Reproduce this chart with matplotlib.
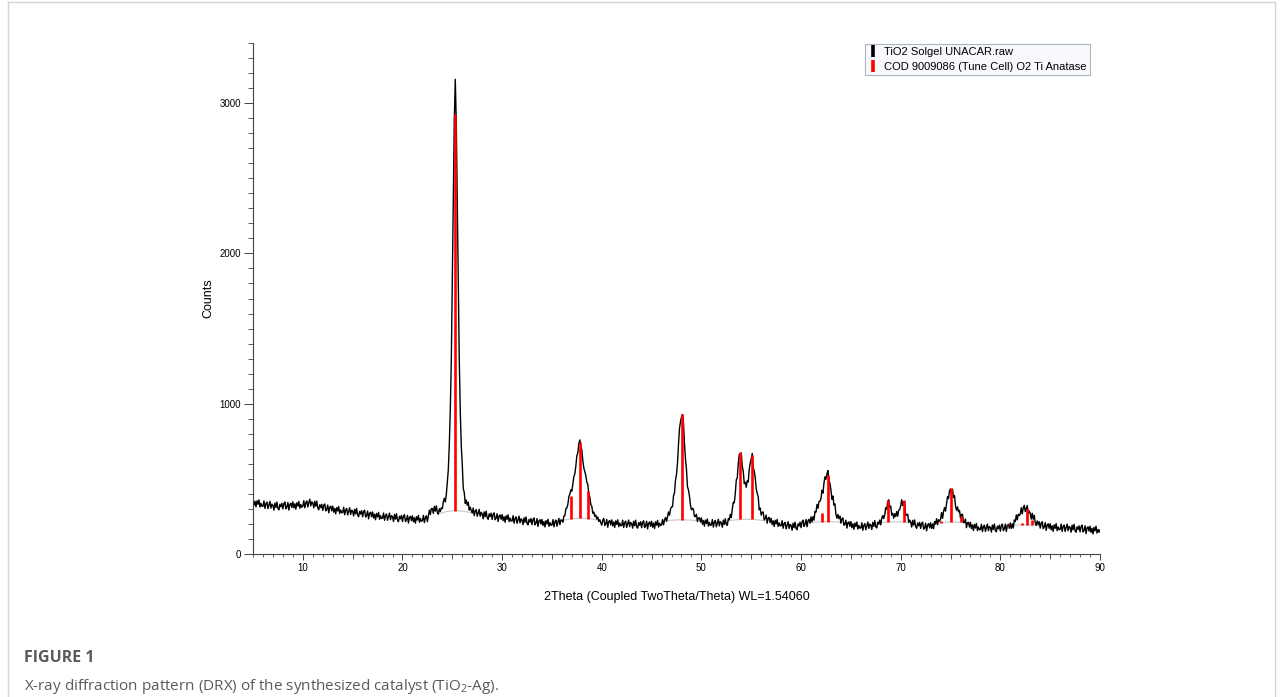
import numpy as np
import matplotlib
matplotlib.use('Agg')
import matplotlib.pyplot as plt
from matplotlib.lines import Line2D
from matplotlib.ticker import MultipleLocator, FixedLocator

plt.rcParams['font.family'] = ['Liberation Sans', 'DejaVu Sans']

# measured pattern, 5-90 deg 2theta in 0.1 deg steps (one row per degree)
counts = [
    367, 325, 351, 313, 354, 331, 360, 313, 337, 318,
    318, 353, 303, 335, 345, 302, 327, 350, 305, 332,
    323, 292, 339, 309, 346, 303, 294, 331, 314, 338,
    300, 335, 346, 301, 313, 343, 292, 330, 338, 309,
    347, 307, 334, 298, 341, 319, 350, 304, 329, 311,
    318, 355, 307, 341, 353, 313, 341, 365, 320, 347,
    340, 307, 351, 318, 352, 306, 294, 328, 309, 331,
    290, 324, 333, 287, 298, 326, 274, 311, 318, 287,
    319, 278, 304, 267, 309, 286, 316, 269, 293, 275,
    276, 311, 261, 293, 303, 260, 285, 308, 263, 291,
    285, 253, 298, 267, 303, 259, 248, 284, 266, 289,
    248, 282, 292, 246, 257, 286, 234, 271, 278, 248,
    280, 239, 265, 228, 270, 247, 277, 231, 255, 236,
    238, 273, 224, 256, 266, 224, 249, 272, 228, 255,
    248, 216, 263, 232, 268, 225, 215, 251, 234, 257,
    216, 251, 261, 216, 227, 257, 206, 243, 251, 222,
    254, 214, 241, 205, 248, 226, 257, 211, 236, 218,
    221, 257, 209, 242, 254, 215, 253, 292, 263, 303,
    302, 270, 317, 285, 320, 275, 265, 301, 283, 307,
    302, 347, 371, 346, 395, 480, 560, 727, 960, 1280,
    1800, 2345, 2885, 3158, 2870, 2340, 1795, 1290, 950, 720,
    597, 437, 409, 336, 359, 324, 345, 292, 311, 289,
    273, 306, 255, 286, 295, 251, 275, 297, 251, 277,
    267, 234, 280, 249, 285, 241, 231, 267, 249, 272,
    230, 264, 274, 228, 239, 268, 216, 253, 260, 231,
    262, 222, 248, 211, 254, 231, 261, 215, 239, 220,
    220, 255, 205, 237, 247, 204, 229, 252, 207, 234,
    227, 195, 241, 211, 247, 203, 194, 230, 212, 236,
    195, 229, 240, 194, 205, 235, 183, 221, 228, 199,
    230, 190, 216, 180, 222, 200, 231, 184, 209, 191,
    193, 229, 181, 214, 226, 185, 212, 237, 195, 227,
    225, 212, 253, 255, 302, 306, 331, 383, 398, 427,
    418, 469, 515, 534, 586, 654, 673, 736, 759, 718,
    693, 621, 572, 548, 522, 478, 462, 401, 379, 329,
    318, 271, 279, 250, 259, 233, 246, 217, 228, 207,
    192, 226, 236, 190, 201, 230, 178, 216, 223, 194,
    227, 187, 213, 177, 220, 197, 228, 182, 206, 188,
    190, 225, 176, 208, 219, 177, 202, 226, 182, 209,
    203, 172, 218, 188, 225, 181, 172, 209, 191, 215,
    175, 210, 221, 176, 188, 218, 167, 205, 213, 184,
    218, 178, 206, 170, 214, 192, 224, 179, 205, 189,
    195, 229, 194, 226, 243, 217, 247, 280, 258, 299,
    314, 314, 387, 408, 492, 528, 606, 730, 834, 881,
    910, 927, 869, 738, 633, 563, 448, 426, 385, 326,
    294, 304, 298, 250, 249, 264, 216, 240, 241, 213,
    240, 198, 223, 185, 226, 203, 233, 186, 210, 191,
    193, 229, 179, 212, 223, 181, 207, 231, 187, 215,
    208, 178, 226, 197, 235, 195, 191, 235, 228, 265,
    242, 300, 344, 341, 403, 493, 507, 605, 663, 654,
    672, 582, 549, 468, 478, 444, 487, 479, 564, 606,
    631, 669, 575, 553, 509, 434, 403, 381, 294, 306,
    258, 277, 280, 227, 235, 259, 205, 238, 243, 209,
    238, 196, 221, 183, 224, 200, 230, 183, 207, 188,
    188, 222, 171, 202, 211, 167, 192, 215, 170, 197,
    190, 158, 205, 175, 212, 170, 162, 201, 186, 212,
    175, 213, 226, 183, 198, 230, 181, 221, 231, 205,
    247, 214, 249, 225, 284, 279, 330, 304, 349, 351,
    368, 424, 405, 473, 514, 497, 535, 555, 483, 471,
    425, 364, 386, 326, 333, 265, 238, 263, 236, 252,
    205, 235, 240, 191, 198, 225, 172, 208, 214, 184,
    216, 175, 201, 164, 206, 183, 213, 166, 190, 172,
    173, 208, 158, 191, 202, 161, 188, 213, 170, 199,
    193, 163, 211, 183, 222, 180, 173, 212, 198, 226,
    194, 238, 256, 236, 262, 308, 298, 350, 360, 314,
    318, 259, 271, 238, 268, 249, 283, 251, 292, 297,
    320, 361, 322, 346, 329, 261, 258, 265, 211, 226,
    213, 179, 224, 192, 227, 182, 171, 206, 188, 211,
    170, 203, 212, 165, 176, 205, 154, 193, 202, 174,
    208, 170, 200, 168, 216, 199, 235, 195, 228, 218,
    230, 276, 237, 283, 309, 285, 333, 382, 368, 421,
    433, 404, 431, 376, 388, 320, 291, 313, 281, 290,
    238, 263, 264, 209, 211, 233, 175, 207, 211, 179,
    211, 169, 194, 156, 197, 173, 203, 156, 180, 161,
    163, 198, 149, 181, 192, 150, 175, 199, 155, 183,
    177, 146, 193, 163, 200, 157, 148, 185, 168, 192,
    152, 188, 199, 155, 168, 199, 149, 188, 198, 171,
    207, 170, 201, 173, 226, 216, 260, 227, 264, 256,
    266, 308, 267, 308, 324, 282, 303, 322, 268, 286,
    270, 232, 271, 231, 258, 207, 190, 220, 196, 215,
    172, 205, 215, 169, 180, 209, 157, 194, 201, 171,
    202, 161, 188, 151, 194, 171, 202, 155, 180, 162,
    164, 199, 150, 182, 193, 150, 176, 199, 155, 183,
    177, 145, 192, 161, 198, 154, 145, 181, 164, 187,
    147, 182, 192, 147, 158, 188, 136, 174, 181, 152,
    185, 144, 171, 134, 177, 154, 185, 139, 163, 145,
    161,
]
two_theta = np.linspace(5.0, 90.0, len(counts))

# COD 9009086 anatase reflections, drawn on top of the fitted background
stick_pos = [25.30, 36.95, 37.80, 38.57, 48.05, 53.89, 55.06, 62.12, 62.69,
             68.76, 70.31, 74.03, 75.03, 76.02, 80.73, 82.14, 82.66, 83.15]
stick_base = [289, 236, 238, 236, 228, 230, 230, 214, 216,
              213, 213, 209, 213, 210, 190, 193, 194, 193]
stick_top = [2927, 387, 744, 416, 931, 676, 660, 276, 527,
             356, 360, 222, 438, 256, 197, 206, 300, 227]

# background under each peak group
bg_x = [[23.6, 24.5, 25.3, 26.2, 27.8],
        [35.9, 36.9, 37.8, 38.8, 39.9],
        [46.6, 47.3, 48.0, 48.8, 49.6],
        [52.7, 53.7, 54.5, 55.4, 56.5],
        [60.9, 61.8, 62.6, 63.5, 64.3],
        [67.6, 68.5, 69.5, 70.5, 71.4],
        [73.3, 74.2, 75.1, 76.0, 76.9],
        [80.5, 81.5, 82.4, 83.3, 84.2]]
bg_y = [[268, 283, 289, 284, 262],
        [222, 234, 238, 235, 222],
        [222, 226, 228, 226, 221],
        [222, 229, 231, 229, 220],
        [208, 214, 217, 214, 207],
        [204, 212, 215, 212, 203],
        [203, 210, 213, 210, 202],
        [186, 192, 194, 192, 185]]

legend_labels = ['TiO2 Solgel UNACAR.raw',
                 'COD 9009086 (Tune Cell) O2 Ti Anatase']

fig = plt.figure(figsize=(12.81, 6.97), dpi=100)
ax = fig.add_axes([253 / 1281, 143 / 697, 847 / 1281, 511 / 697])

for xs, ys in zip(bg_x, bg_y):
    ax.plot(xs, ys, color='#c8c8c8', lw=0.8, zorder=1)
ax.plot(two_theta, counts, color='black', lw=1.0, zorder=2)
ax.vlines(stick_pos, stick_base, stick_top, colors='#ff0000', lw=1.9, zorder=3)

ax.set_xlim(5, 90)
ax.set_ylim(0, 3400)
for side in ['top', 'right']:
    ax.spines[side].set_visible(False)
for side in ['left', 'bottom']:
    ax.spines[side].set_color('#444444')
    ax.spines[side].set_linewidth(0.8)

ax.xaxis.set_major_locator(MultipleLocator(10))
ax.xaxis.set_minor_locator(MultipleLocator(1))
ax.yaxis.set_major_locator(MultipleLocator(1000))
ax.yaxis.set_minor_locator(MultipleLocator(100))
ax.tick_params(axis='x', which='major', length=4.5, width=0.7, color='#444444',
               labelsize=7, pad=2)
ax.tick_params(axis='x', which='minor', length=2, width=0.6, color='#444444')
ax.tick_params(axis='y', which='major', length=6.5, width=0.7, color='#444444',
               labelsize=7, pad=2)
ax.tick_params(axis='y', which='minor', length=3.5, width=0.6, color='#444444')

# mid-length ticks at every 5 degrees
sec = ax.secondary_xaxis('bottom')
sec.xaxis.set_major_locator(FixedLocator([15, 25, 35, 45, 55, 65, 75, 85]))
sec.tick_params(length=3.3, width=0.6, color='#444444', labelbottom=False)
sec.spines['bottom'].set_visible(False)

ax.set_ylabel('Counts', fontsize=9)
ax.yaxis.set_label_coords(-0.046, 0.5)
ax.set_xlabel('2Theta (Coupled TwoTheta/Theta) WL=1.54060', fontsize=9)
ax.xaxis.set_label_coords(0.5, -0.072)

handles = [Line2D([], [], color='black', marker='|', linestyle='None',
                  markersize=8, markeredgewidth=2.6),
           Line2D([], [], color='#ff0000', marker='|', linestyle='None',
                  markersize=8, markeredgewidth=2.6)]
leg = ax.legend(handles, legend_labels, loc='upper right',
                bbox_to_anchor=(0.988, 0.998), borderaxespad=0, fontsize=8,
                frameon=True, fancybox=False, handlelength=0.8,
                handletextpad=0.6, labelspacing=0.4, borderpad=0.3)
leg.get_frame().set_facecolor('#f6f8fc')
leg.get_frame().set_edgecolor('#9aa3b5')
leg.get_frame().set_linewidth(0.8)

# page frame and caption
fig.add_artist(Line2D([7.5 / 1281, 7.5 / 1281], [0, 1 - 1.5 / 697],
                      color='#d5d5d5', lw=1))
fig.add_artist(Line2D([7.5 / 1281, 1274.5 / 1281], [1 - 1.5 / 697, 1 - 1.5 / 697],
                      color='#d5d5d5', lw=1))
fig.add_artist(Line2D([1274.5 / 1281, 1274.5 / 1281], [0, 1 - 1.5 / 697],
                      color='#d5d5d5', lw=1))
fig.text(24 / 1281, 1 - 658 / 697, 'FIGURE 1', fontsize=11.5, fontweight='bold',
         color='#5a5a5a', family='Open Sans', va='center', ha='left')
fig.text(24 / 1281, 1 - 686 / 697,
         'X-ray diffraction pattern (DRX) of the synthesized catalyst (TiO$_\\mathregular{2}$-Ag).',
         fontsize=11, color='#5a5a5a', family='Open Sans', va='center', ha='left')

fig.savefig('out.png', dpi=100)
